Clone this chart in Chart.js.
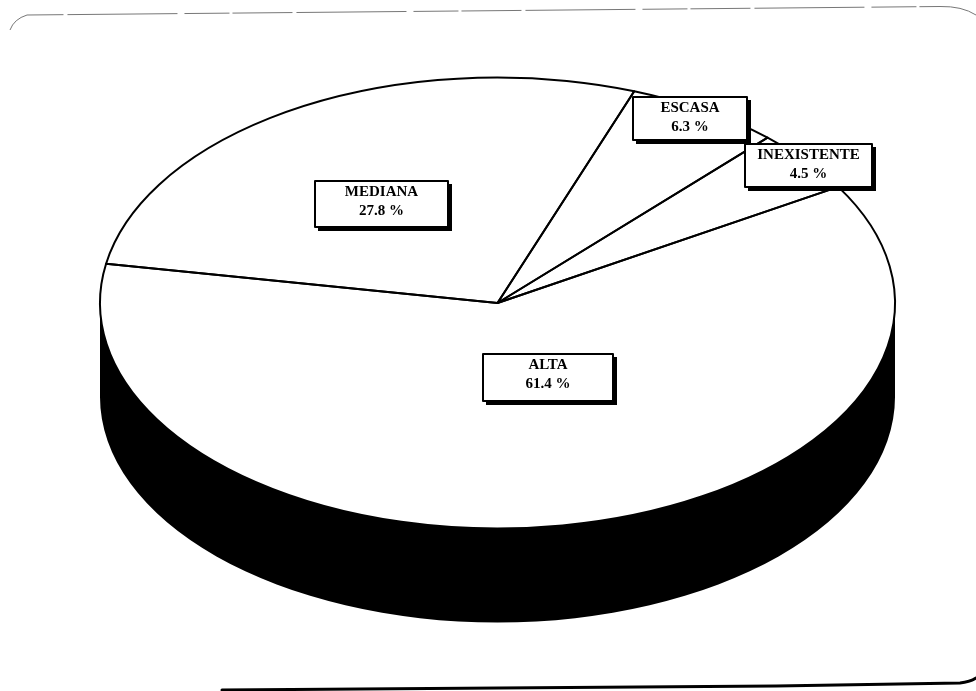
<!DOCTYPE html>
<html>
<head>
<meta charset="utf-8">
<style>html,body{margin:0;padding:0;background:#fff}canvas{display:block}</style>
<script src="https://cdn.jsdelivr.net/npm/chart.js@4/dist/chart.umd.js"></script>
</head>
<body>
<canvas id="c" width="976" height="691"></canvas>
<script>
const categories = ['ALTA', 'MEDIANA', 'ESCASA', 'INEXISTENTE'];
const values = [61.4, 27.8, 6.3, 4.5];
const startAngle = 59.0;

const view = { cx: 497.5, cy: 303, rx: 397.5, ry: 225.5, depth: 94 };
const boxes = [
  { l: 483, t: 354, r: 613, b: 401 },
  { l: 315, t: 181, r: 448, b: 227 },
  { l: 633, t: 97, r: 747, b: 140 },
  { l: 745, t: 144, r: 872, b: 187 }
];

function applyView(ctx, el) {
  const R = el.outerRadius;
  ctx.translate(view.cx, view.cy);
  ctx.scale(view.rx / R, view.ry / R);
  ctx.translate(-el.x, -el.y);
}

const pie3d = {
  id: 'pie3d',
  beforeDraw(chart) {
    const ctx = chart.ctx;
    ctx.save();
    ctx.fillStyle = '#fff';
    ctx.fillRect(0, 0, 976, 691);
    // scanned frame, top edge and corners
    ctx.strokeStyle = '#777';
    ctx.lineWidth = 1;
    ctx.setLineDash([60, 4, 110, 7, 45, 3]);
    ctx.beginPath();
    ctx.moveTo(10, 30);
    ctx.quadraticCurveTo(14, 19, 27, 15);
    ctx.lineTo(460, 11);
    ctx.lineTo(940, 6.5);
    ctx.quadraticCurveTo(962, 6, 976, 15);
    ctx.stroke();
    ctx.setLineDash([]);
    // bottom edge
    ctx.lineCap = 'round';
    ctx.strokeStyle = '#000';
    ctx.lineWidth = 3;
    ctx.beginPath();
    ctx.moveTo(222, 690);
    ctx.lineTo(776, 686);
    ctx.lineTo(960, 683);
    ctx.quadraticCurveTo(970, 682, 976, 678);
    ctx.stroke();
    ctx.restore();
  },
  beforeDatasetsDraw(chart) {
    const ctx = chart.ctx;
    const el = chart.getDatasetMeta(0).data[0];
    ctx.save();
    ctx.fillStyle = '#000';
    ctx.beginPath();
    ctx.ellipse(view.cx, view.cy, view.rx, view.ry, 0, Math.PI, 0, true);
    ctx.lineTo(view.cx + view.rx, view.cy + view.depth);
    ctx.ellipse(view.cx, view.cy + view.depth, view.rx, view.ry, 0, 0, Math.PI);
    ctx.closePath();
    ctx.fill();
    ctx.restore();
    ctx.save();
    applyView(ctx, el);
  },
  afterDatasetsDraw(chart) {
    const ctx = chart.ctx;
    ctx.restore();
    ctx.strokeStyle = '#000';
    ctx.lineWidth = 2;
    ctx.lineJoin = 'round';
    chart.getDatasetMeta(0).data.forEach(el => {
      ctx.save();
      applyView(ctx, el);
      ctx.beginPath();
      ctx.moveTo(el.x, el.y);
      ctx.arc(el.x, el.y, el.outerRadius, el.startAngle, el.endAngle);
      ctx.closePath();
      ctx.restore();
      ctx.stroke();
    });
  },
  afterDraw(chart) {
    const ctx = chart.ctx;
    ctx.save();
    categories.forEach((name, i) => {
      const b = boxes[i];
      const w = b.r - b.l, h = b.b - b.t;
      ctx.fillStyle = '#000';
      ctx.fillRect(b.l + 3, b.t + 3, w + 1, h + 1);
      ctx.fillStyle = '#fff';
      ctx.fillRect(b.l, b.t, w, h);
      ctx.strokeStyle = '#000';
      ctx.lineWidth = 2;
      ctx.strokeRect(b.l, b.t, w, h);
      ctx.fillStyle = '#000';
      ctx.font = 'bold 15px "Liberation Serif"';
      ctx.textAlign = 'center';
      ctx.textBaseline = 'alphabetic';
      const mid = (b.l + b.r) / 2;
      ctx.fillText(name, mid, b.t + 14.5);
      ctx.fillText(values[i].toFixed(1) + ' %', mid, b.t + 34);
    });
    ctx.restore();
  }
};

new Chart(document.getElementById('c'), {
  type: 'pie',
  data: {
    labels: categories,
    datasets: [{
      data: values,
      backgroundColor: '#ffffff',
      borderWidth: 0
    }]
  },
  options: {
    responsive: false,
    animation: false,
    rotation: startAngle,
    layout: { padding: 0 },
    plugins: { legend: { display: false }, tooltip: { enabled: false } }
  },
  plugins: [pie3d]
});
</script>
</body>
</html>
